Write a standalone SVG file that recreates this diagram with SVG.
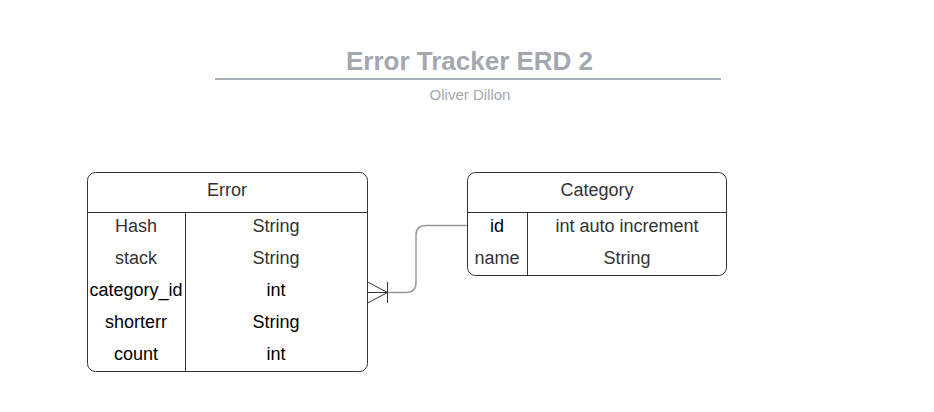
<svg xmlns="http://www.w3.org/2000/svg" width="934" height="412" viewBox="0 0 934 412">
<style>
.box{fill:#fff;stroke:#333;stroke-width:1}
.ln{stroke:#333;stroke-width:1;fill:none}
.t{font-family:"Liberation Sans",Arial,sans-serif;font-size:18px;text-anchor:middle}
.g{fill:#333}
.k{fill:#000}
.conn{stroke:#999;stroke-width:1.5;fill:none}
.cf{stroke:#333;stroke-width:1;fill:none}
</style>
<rect width="934" height="412" fill="#fff"/>
<g id="title">
<text x="469.5" y="70" font-family="Liberation Sans,Arial,sans-serif" font-size="26" font-weight="bold" fill="#a3a8b0" text-anchor="middle">Error Tracker ERD 2</text>
<line x1="215" y1="79" x2="721" y2="79" stroke="#a9aeb6" stroke-width="2"/>
<text x="470" y="100" font-family="Liberation Sans,Arial,sans-serif" font-size="15" fill="#a3a8b0" text-anchor="middle">Oliver Dillon</text>
</g>
<g id="error">
<rect class="box" x="87.5" y="172.5" width="280" height="199" rx="8"/>
<line class="ln" x1="87.5" y1="212.5" x2="367.5" y2="212.5"/>
<line class="ln" x1="185.5" y1="212.5" x2="185.5" y2="371.5"/>
<text class="t g" x="227" y="195.5">Error</text>
<text class="t g" x="136" y="232">Hash</text>
<text class="t g" x="276" y="232">String</text>
<text class="t g" x="136" y="264">stack</text>
<text class="t g" x="276" y="264">String</text>
<text class="t k" x="136" y="296">category_id</text>
<text class="t k" x="276" y="296">int</text>
<text class="t k" x="136" y="328">shorterr</text>
<text class="t k" x="276" y="328">String</text>
<text class="t k" x="136" y="360">count</text>
<text class="t k" x="276" y="360">int</text>
</g>
<g id="category">
<rect class="box" x="467.5" y="172.5" width="259" height="103" rx="8"/>
<line class="ln" x1="467.5" y1="212.5" x2="726.5" y2="212.5"/>
<line class="ln" x1="527.5" y1="212.5" x2="527.5" y2="275.5"/>
<text class="t g" x="597" y="195.5">Category</text>
<text class="t k" x="497" y="232">id</text>
<text class="t g" x="627" y="232">int auto increment</text>
<text class="t g" x="497" y="264">name</text>
<text class="t g" x="627" y="264">String</text>
</g>
<g id="connectors">
<path class="conn" d="M387 292.5 H406 Q416 292.5 416 282.5 V235 Q416 225.5 426 225.5 H467"/>
<path class="cf" d="M367.5 282 L387.5 292.5 L367.5 303 M367.5 292.5 H387.5 M387.5 282 V303"/>
<line class="ln" x1="467.5" y1="214" x2="467.5" y2="238" stroke-width="1.5"/>
</g>
</svg>
